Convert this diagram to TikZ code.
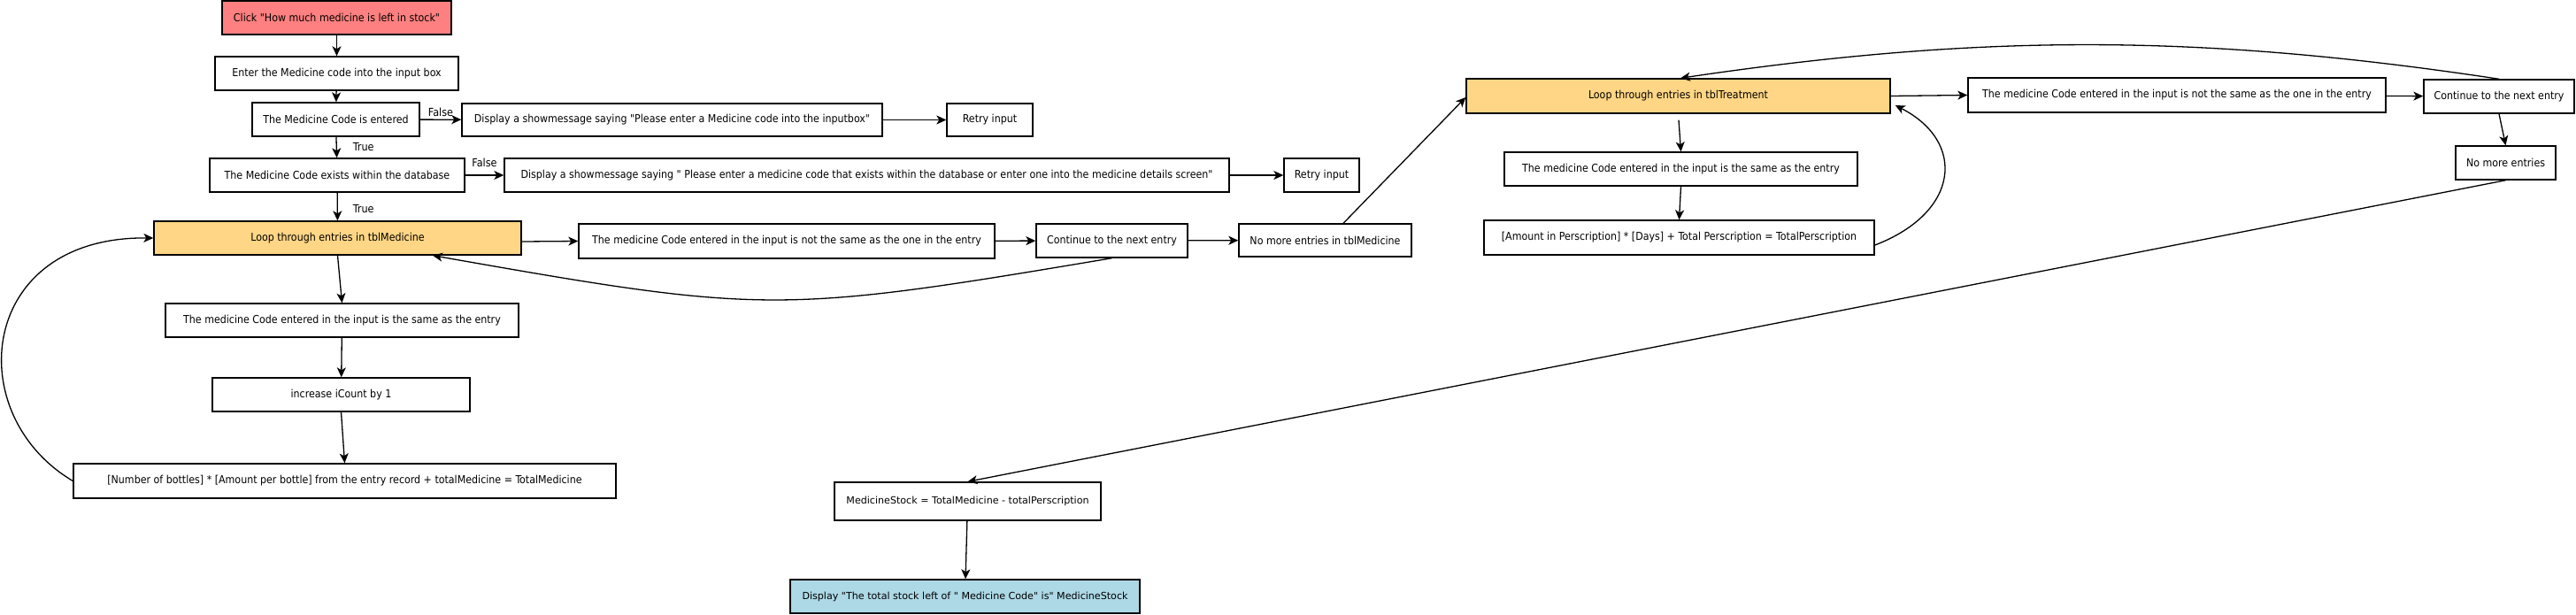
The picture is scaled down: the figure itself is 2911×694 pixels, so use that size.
\documentclass[tikz,border=0pt]{standalone}
\usepackage{fontspec}
\usetikzlibrary{arrows.meta}
\newfontfamily\condf{DejaVu Sans Condensed}
\newfontfamily\regf{DejaVu Sans}
\definecolor{redfill}{RGB}{255,128,128}
\definecolor{orangefill}{RGB}{255,214,133}
\definecolor{bluefill}{RGB}{173,216,230}
\begin{document}
\begin{tikzpicture}[x=1pt,y=-1pt,
  box/.style={draw=black,line width=1.4pt,fill=white,inner sep=0pt,font=\fontsize{12.3}{14}\condf},
  regbox/.style={box,font=\fontsize{11.1}{13}\regf},
  arr/.style={line width=1.3pt,-{Stealth[length=11pt,width=10pt,inset=3pt]}},
  lbl/.style={font=\fontsize{12.5}{14}\condf,inner sep=0pt}]
\useasboundingbox (0,0) rectangle (2911,694);

% left column
\node[box,fill=redfill,minimum width=259pt,minimum height=38pt] (click) at (380.5,20) {Click "How much medicine is left in stock"};
\node[box,minimum width=275pt,minimum height=38pt] (enter) at (380.5,83) {Enter the Medicine code into the input box};
\node[box,minimum width=189pt,minimum height=38pt] (entered) at (379.5,135) {The Medicine Code is entered};
\node[box,minimum width=475pt,minimum height=37pt] (disp1) at (759.5,135.5) {Display a showmessage saying "Please enter a Medicine code into the inputbox"};
\node[box,minimum width=97pt,minimum height=37pt] (retry1) at (1118.5,135.5) {Retry input};
\node[box,minimum width=288pt,minimum height=38pt] (exists) at (381,198) {The Medicine Code exists within the database};
\node[box,minimum width=819pt,minimum height=38pt] (disp2) at (979.5,198) {Display a showmessage saying " Please enter a medicine code that exists within the database or enter one into the medicine details screen"};
\node[box,minimum width=85pt,minimum height=38pt] (retry2) at (1493.5,198) {Retry input};
\node[box,fill=orangefill,minimum width=415pt,minimum height=38pt] (loop1) at (381.5,269) {Loop through entries in tblMedicine};
\node[box,minimum width=470pt,minimum height=39pt] (notsame1) at (889,272.5) {The medicine Code entered in the input is not the same as the one in the entry};
\node[box,minimum width=171pt,minimum height=38pt] (cont1) at (1256.5,272) {Continue to the next entry};
\node[box,minimum width=195pt,minimum height=37pt] (nomore1) at (1497.5,271.5) {No more entries in tblMedicine};
\node[box,minimum width=399pt,minimum height=38pt] (same1) at (386.5,362) {The medicine Code entered in the input is the same as the entry};
\node[box,minimum width=291pt,minimum height=38pt] (incr) at (385.5,446) {increase iCount by 1};
\node[box,minimum width=613pt,minimum height=39pt] (number) at (389.5,543.5) {[Number of bottles] * [Amount per bottle] from the entry record + totalMedicine = TotalMedicine};

% right part
\node[box,fill=orangefill,minimum width=479pt,minimum height=39pt] (loop2) at (1896.5,108.5) {Loop through entries in tblTreatment};
\node[box,minimum width=472pt,minimum height=39pt] (notsame2) at (2460,107.5) {The medicine Code entered in the input is not the same as the one in the entry};
\node[box,minimum width=170pt,minimum height=38pt] (cont2) at (2824,109) {Continue to the next entry};
\node[box,minimum width=113pt,minimum height=38pt] (nomore2) at (2831.5,184) {No more entries};
\node[box,minimum width=399pt,minimum height=38pt] (same2) at (1899.5,191) {The medicine Code entered in the input is the same as the entry};
\node[box,minimum width=441pt,minimum height=39pt] (amount) at (1897.5,268.5) {[Amount in Perscription] * [Days] + Total Perscription = TotalPerscription};

% bottom
\node[regbox,minimum width=301pt,minimum height=43pt] (stock) at (1093.5,566.5) {MedicineStock = TotalMedicine - totalPerscription};
\node[regbox,fill=bluefill,minimum width=395pt,minimum height=38pt] (final) at (1090.5,674) {Display "The total stock left of " Medicine Code" is" MedicineStock};

% connectors
\draw[arr] (click) -- (enter);
\draw[arr] (enter) -- (entered);
\draw[arr] (entered) -- node[lbl,anchor=base,yshift=4pt] {False} (disp1);
\draw[arr] (disp1) -- (retry1);
\draw[arr] (entered) -- node[lbl,anchor=base west,xshift=18pt,yshift=-3.5pt] {True} (exists);
\draw[arr] (exists) -- node[lbl,anchor=base,yshift=10pt] {False} (disp2);
\draw[arr] (disp2) -- (retry2);
\draw[arr] (exists) -- node[lbl,anchor=base west,xshift=17pt,yshift=-6.5pt] {True} (loop1);
\draw[arr] ([yshift=-4pt]loop1.east) -- (notsame1.west);
\draw[arr] (notsame1) -- (cont1);
\draw[arr] (cont1) -- (nomore1);
\draw[arr] (cont1.south) .. controls (880,355) and (865,355) .. ([xshift=107.5pt]loop1.south);
\draw[arr] (loop1.south) -- (same1.north);
\draw[arr] (same1) -- (incr);
\draw[arr] (incr.south) -- (number.north);
\draw[arr] (number.west) .. controls (-45,468) and (-25,267) .. (loop1.west);
\draw[arr] ([xshift=20.5pt]nomore1.north) -- ([yshift=-1.5pt]loop2.west);
\draw[arr] (loop2.east) -- (notsame2.west);
\draw[arr] (notsame2) -- (cont2);
\draw[arr] (cont2.north) .. controls (2485,38) and (2239,38) .. ([xshift=2.5pt]loop2.north);
\draw[arr] (cont2.south) -- (nomore2.north);
\draw[arr,shorten <=7pt] (loop2.south) -- (same2.north);
\draw[arr] (same2.south) -- (amount.north);
\draw[arr] ([yshift=-8.5pt]amount.east) .. controls (2215,240) and (2222,160) .. ([xshift=5pt,yshift=-10.5pt]loop2.east);
\draw[arr] (nomore2.south) -- (stock.north);
\draw[arr] (stock) -- (final);
\end{tikzpicture}
\end{document}
